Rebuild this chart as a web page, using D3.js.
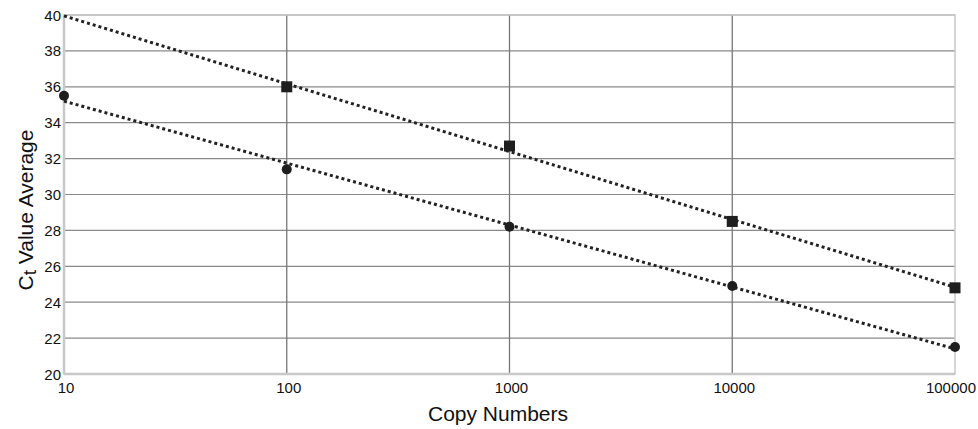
<!DOCTYPE html>
<html>
<head>
<meta charset="utf-8">
<script src="https://cdn.jsdelivr.net/npm/d3@7"></script>
<style>
  body { margin: 0; background: #fff; }
  text { font-family: "Liberation Sans", Arial, sans-serif; fill: #111; }
</style>
</head>
<body>
<svg id="chart" width="978" height="429"></svg>
<script>
const copyNumbers = [10, 100, 1000, 10000, 100000];
const xTicks = [10, 100, 1000, 10000, 100000];
const yTicks = [20, 22, 24, 26, 28, 30, 32, 34, 36, 38, 40];

// series
const squareX = [100, 1000, 10000, 100000];
const squareY = [36.0, 32.7, 28.5, 24.8];
const circleX = [10, 100, 1000, 10000, 100000];
const circleY = [35.5, 31.4, 28.2, 24.9, 21.5];

const margin = { left: 64, right: 23, top: 15, bottom: 55 };
const width = 978, height = 429;

const svg = d3.select("#chart");
const x = d3.scaleLog().domain([10, 100000]).range([margin.left, width - margin.right]);
const y = d3.scaleLinear().domain([20, 40]).range([height - margin.bottom, margin.top]);

// grid
svg.append("g").selectAll("line").data(yTicks.slice(1)).join("line")
  .attr("x1", margin.left).attr("x2", width - margin.right)
  .attr("y1", d => y(d)).attr("y2", d => y(d))
  .attr("stroke", "#8a8a8a").attr("stroke-width", 1.2);
svg.append("g").selectAll("line").data(xTicks.slice(1, -1)).join("line")
  .attr("x1", d => x(d)).attr("x2", d => x(d))
  .attr("y1", margin.top).attr("y2", height - margin.bottom)
  .attr("stroke", "#777").attr("stroke-width", 1.3);

// frame
svg.append("rect")
  .attr("x", margin.left).attr("y", margin.top)
  .attr("width", width - margin.left - margin.right)
  .attr("height", height - margin.top - margin.bottom)
  .attr("fill", "none").attr("stroke", "#c8c8c8").attr("stroke-width", 1.5);
svg.append("line")
  .attr("x1", margin.left).attr("x2", width - margin.right)
  .attr("y1", y(20)).attr("y2", y(20))
  .attr("stroke", "#c8c8c8").attr("stroke-width", 2.5);
svg.append("line")
  .attr("x1", margin.left).attr("x2", margin.left)
  .attr("y1", margin.top).attr("y2", y(20))
  .attr("stroke", "#c8c8c8").attr("stroke-width", 2.5);

// tick labels
svg.append("g").selectAll("text").data(yTicks).join("text")
  .attr("x", margin.left - 3).attr("y", d => y(d) + 5.5)
  .attr("text-anchor", "end").attr("font-size", 15)
  .text(d => d);
const last = xTicks[xTicks.length - 1];
svg.append("g").selectAll("text").data(xTicks).join("text")
  .attr("x", d => d === last ? width - 2 : x(d) + 2).attr("y", y(20) + 19)
  .attr("text-anchor", d => d === last ? "end" : "middle").attr("font-size", 15)
  .text(d => d);

// axis titles
svg.append("text")
  .attr("x", 498).attr("y", 421)
  .attr("text-anchor", "middle").attr("font-size", 21)
  .text("Copy Numbers");
const yt = svg.append("text")
  .attr("transform", "translate(33,210) rotate(-90)")
  .attr("text-anchor", "middle").attr("font-size", 21);
yt.append("tspan").text("C");
yt.append("tspan").attr("font-size", 19).attr("dy", 3).text("t");
yt.append("tspan").attr("dy", -3).text(" Value Average");

// log-linear regression trend lines
function trend(xs, ys) {
  const lx = xs.map(Math.log10);
  const mx = d3.mean(lx), my = d3.mean(ys);
  const slope = d3.sum(lx, (v, i) => (v - mx) * (ys[i] - my)) / d3.sum(lx, v => (v - mx) ** 2);
  return [10, 100000].map(v => [v, my + slope * (Math.log10(v) - mx)]);
}
const line = d3.line().x(d => x(d[0])).y(d => y(d[1]));
[trend(squareX, squareY), trend(circleX, circleY)].forEach(t => {
  svg.append("path").datum(t).attr("d", line)
    .attr("fill", "none").attr("stroke", "#222")
    .attr("stroke-width", 3).attr("stroke-dasharray", "3,3");
});

// markers
svg.append("g").selectAll("rect").data(squareX.map((v, i) => [v, squareY[i]])).join("rect")
  .attr("x", d => x(d[0]) - 5.5).attr("y", d => y(d[1]) - 5.5)
  .attr("width", 11).attr("height", 11).attr("fill", "#1e1e1e");
svg.append("g").selectAll("circle").data(circleX.map((v, i) => [v, circleY[i]])).join("circle")
  .attr("cx", d => x(d[0])).attr("cy", d => y(d[1])).attr("r", 5)
  .attr("fill", "#1e1e1e");
</script>
</body>
</html>
